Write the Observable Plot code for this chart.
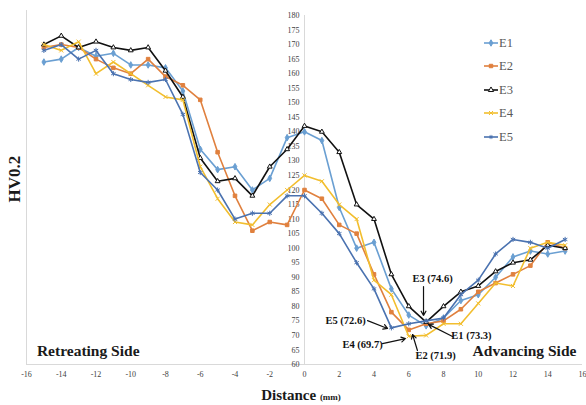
<!DOCTYPE html>
<html><head><meta charset="utf-8">
<script src="https://cdn.jsdelivr.net/npm/d3@7"></script>
<script src="https://cdn.jsdelivr.net/npm/@observablehq/plot@0.6"></script>
<style>
body{margin:0;background:#fff;}
#wrap{position:relative;width:586px;height:405px;overflow:hidden;font-family:"Liberation Serif","Times New Roman",serif;}
#wrap svg text{font-family:"Liberation Serif","Times New Roman",serif;}
.lab{position:absolute;font-weight:bold;color:#1a1a1a;white-space:nowrap;}
.leg{position:absolute;left:484px;font-size:12.5px;color:#595959;display:flex;align-items:center;height:14px;}
</style></head><body><div id="wrap"></div>
<script>
// Distance positions (mm)
const distances = [-15,-14,-13,-12,-11,-10,-9,-8,-7,-6,-5,-4,-3,-2,-1,0,1,2,3,4,5,6,7,8,9,10,11,12,13,14,15];
const E1 = [164,165,169,166,167,163,163,162,154,134,127,128,120,124,138,140,137,114,100,102,86,77,73.3,76,82,84,90,97,99,98,99];
const E2 = [169,170,169,165,162,160,165,159,156,151,133,118,106,109,108,120,117,108,105,91,78,71.9,74,75,79,85,88,91,94,102,100];
const E3 = [170,173,169,171,169,168,169,161,152,131,123,124,118,128,134,142,140,133,115,110,91,80,74.6,80,85,87,92,95,96,101,100];
const E4 = [170,168,171,160,164,160,156,152,151,128,117,109,108,115,120,125,123,115,110,89,84,69.7,70,74,74,81,88,87,100,102,101];
const E5 = [168,170,165,168,160,158,157,158,146,126,120,110,112,112,118,118,112,105,95,86,72.6,74,75,76,84,89,98,103,102,100,103];
const seriesNames = ["E1","E2","E3","E4","E5"];
const seriesColors = ["#6A9FD2","#E0803E","#111111","#F2BE2E","#4A72B0"];
const seriesSymbols = ["diamond","square","triangle","times","asterisk"];
const xTicks = [-16,-14,-12,-10,-8,-6,-4,-2,0,2,4,6,8,10,12,14,16];
const yTicks = [60,65,70,75,80,85,90,95,100,105,110,115,120,125,130,135,140,145,150,155,160,165,170,175,180];
// annotation labels and arrows (data coordinates)
const annLabels = ["E3 (74.6)","E5 (72.6)","E4 (69.7)","E1 (73.3)","E2 (71.9)"];
const annTextX = [7.37,2.36,3.34,9.61,7.54];
const annTextY = [89.6,75.1,66.9,70.0,63.1];
const arrX1 = [6.85,3.63,4.49,8.52,6.5];
const arrY1 = [86.8,75.1,67.2,69.6,64.8];
const arrX2 = [6.85,4.78,5.81,7.14,6.22];
const arrY2 = [76.9,72.4,68.9,73.8,70.3];

const FF = "Liberation Serif";
const allSeries = [E1,E2,E3,E4,E5];
const rows = [];
allSeries.forEach((vals,si)=>vals.forEach((v,i)=>rows.push({series:seriesNames[si], x:distances[i], y:v})));
const anns = annLabels.map((t,i)=>({t, tx:annTextX[i], ty:annTextY[i], x1:arrX1[i], y1:arrY1[i], x2:arrX2[i], y2:arrY2[i]}));

const marks = [
  Plot.ruleY([60],{stroke:"#d9d9d9"}),
  Plot.ruleX([-16],{y1:60,y2:181.7,stroke:"#d9d9d9"}),
  Plot.ruleX([0],{y1:60,y2:180,stroke:"#d9d9d9"}),
  Plot.axisX({ticks:xTicks, tickSize:0, tickPadding:7, tickFormat:d=>String(d), fontSize:8, fill:"#404040", fontFamily:FF}),
  Plot.text(yTicks,{x:0,y:d=>d,dx:-5,textAnchor:"end",fontSize:8,fill:"#404040",fontFamily:FF})
];
seriesNames.forEach((name,si)=>{
  const d = rows.filter(r=>r.series===name);
  marks.push(Plot.line(d,{x:"x",y:"y",stroke:seriesColors[si],strokeWidth:1.6}));
  const hollow = (si===2);
  marks.push(Plot.dot(d,{x:"x",y:"y",symbol:()=>seriesSymbols[si],r:hollow?1.8:(si===4?2.4:2),
    fill: hollow? "white" : seriesColors[si], stroke: seriesColors[si], strokeWidth: 1}));
});
marks.push(
  Plot.arrow(anns,{x1:"x1",y1:"y1",x2:"x2",y2:"y2",stroke:"#111",strokeWidth:1.2,headLength:6}),
  Plot.text(anns,{x:"tx",y:"ty",text:"t",fontWeight:"bold",fontSize:10.5,fill:"#111",fontFamily:FF}),
  Plot.text(["Retreating Side"],{x:-15.4,y:64.5,text:d=>d,textAnchor:"start",fontWeight:"bold",fontSize:15.5,fill:"#1a1a1a",fontFamily:FF}),
  Plot.text(["Advancing Side"],{x:15.65,y:64.5,text:d=>d,textAnchor:"end",fontWeight:"bold",fontSize:15.5,fill:"#1a1a1a",fontFamily:FF})
);

const chart = Plot.plot({
  width:586, height:405, marginLeft:26, marginRight:4, marginTop:15, marginBottom:41,
  x:{domain:[-16,16]}, y:{domain:[60,180], axis:null},
  symbol:{type:"identity"},
  style:{fontFamily:"'Liberation Serif', 'Times New Roman', serif", background:"white"},
  marks
});
const wrap = document.getElementById("wrap");
wrap.appendChild(chart);

// axis titles
const yl = document.createElement("div");
yl.className="lab"; yl.textContent="HV0.2";
yl.style.cssText="left:15px;top:179px;font-size:17px;transform:translate(-50%,-50%) rotate(-90deg);";
wrap.appendChild(yl);
const xl = document.createElement("div");
xl.className="lab";
xl.innerHTML='Distance <span style="font-size:9px">(mm)</span>';
xl.style.cssText="left:301px;top:395px;font-size:15px;transform:translate(-50%,-50%);";
wrap.appendChild(xl);

// legend
const legTops=[43,66,90,113,137];
seriesNames.forEach((name,si)=>{
  const it=document.createElement("div");
  it.className="leg"; it.style.top=(legTops[si]-7)+"px";
  const sym = d3.symbol().type({diamond:d3.symbolDiamond,square:d3.symbolSquare,triangle:d3.symbolTriangle,times:d3.symbolTimes,asterisk:d3.symbolAsterisk}[seriesSymbols[si]]).size(12)();
  const hollow = si===2;
  it.innerHTML=`<svg width="14" height="10" style="margin-right:1px"><line x1="0" x2="14" y1="5" y2="5" stroke="${seriesColors[si]}" stroke-width="1.6"/><path transform="translate(7,5)" d="${sym}" fill="${hollow?'white':seriesColors[si]}" stroke="${seriesColors[si]}" stroke-width="1"/></svg><span>${name}</span>`;
  wrap.appendChild(it);
});
</script></body></html>
